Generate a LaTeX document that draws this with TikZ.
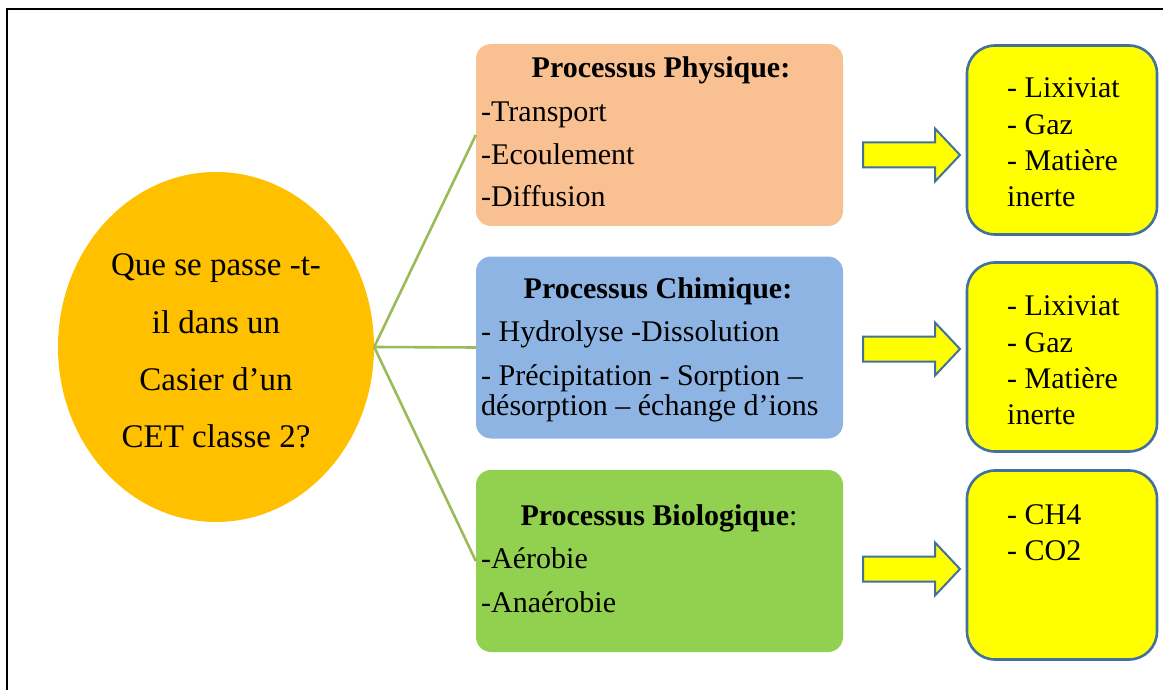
\documentclass[tikz,border=0pt]{standalone}
\usepackage{fontspec}
\setmainfont{Liberation Serif}
\usetikzlibrary{shapes.geometric}
\definecolor{qorange}{HTML}{FFC000}
\definecolor{peach}{HTML}{F9C091}
\definecolor{chemblue}{HTML}{8EB4E3}
\definecolor{biogreen}{HTML}{92D050}
\definecolor{linegreen}{HTML}{9BBB59}
\definecolor{outblue}{HTML}{41719C}
\definecolor{yel}{HTML}{FFFF00}
\tikzset{
  procbox/.style={draw=none, rounded corners=15pt, minimum width=367pt, minimum height=182pt, inner sep=0pt},
  resbox/.style={draw=outblue, fill=yel, line width=2.6pt, rounded corners=28pt, minimum width=190pt, minimum height=189pt, inner sep=0pt},
  qtext/.style={font=\fontsize{33}{40}\selectfont, anchor=base, inner sep=0pt},
  btext/.style={font=\fontsize{30}{36}\selectfont, anchor=base west, inner sep=0pt},
  ttext/.style={font=\fontsize{30}{36}\selectfont\bfseries, anchor=base, inner sep=0pt},
  conn/.style={draw=linegreen, line width=2.6pt},
  arrowshape/.style={draw=outblue, fill=yel, line width=2pt, line join=miter},
  fatarrow/.pic={\path[arrowshape] (-48.5,-12.5) -- (23.5,-12.5) -- (23.5,-26.5) -- (48.5,0) -- (23.5,26.5) -- (23.5,12.5) -- (-48.5,12.5) -- cycle;}
}
\begin{document}
\begin{tikzpicture}[x=1pt,y=-1pt]
\useasboundingbox (0,0) rectangle (1163,690);
% frame
\draw[line width=2.2pt] (7,695) -- (7,9) -- (1170,9);

% question ellipse
\node[ellipse, fill=qorange, minimum width=316pt, minimum height=350pt, inner sep=0pt] (q) at (216,347) {};
\node[qtext] (q1) at (216,276) {Que se passe -t-};
\node[qtext] (q2) at (216,333) {il dans un};
\node[qtext] (q3) at (216,390) {Casier d’un};
\node[qtext] (q4) at (216,447) {CET classe 2?};

% process boxes
\node[procbox, fill=peach] (p1) at (659.5,135) {};
\node[procbox, fill=chemblue] (p2) at (659.5,347.5) {};
\node[procbox, fill=biogreen] (p3) at (659.5,561) {};

\node[ttext] (t1) at (661,78) {Processus Physique:};
\node[btext] (a1) at (481,122) {-Transport};
\node[btext] (a2) at (481,165) {-Ecoulement};
\node[btext] (a3) at (481,207) {-Diffusion};

\node[ttext] (t2) at (658,298) {Processus Chimique:};
\node[btext] (b1) at (481,341) {- Hydrolyse -Dissolution};
\node[btext] (b2) at (481,385) {- Précipitation - Sorption –};
\node[btext] (b3) at (481,415) {désorption – échange d’ions};

\node[ttext] (t3) at (659,525) {Processus Biologique{\mdseries:}};
\node[btext] (c1) at (481,568) {-Aérobie};
\node[btext] (c2) at (481,612) {-Anaérobie};

% connectors
\draw[conn] (q.east) -- (p1.west);
\draw[conn] (q.east) -- (p2.west);
\draw[conn] (q.east) -- (p3.west);

% result boxes
\node[resbox] (r1) at (1062,140) {};
\node[resbox] (r2) at (1062,357) {};
\node[resbox] (r3) at (1062,565) {};

\node[btext] (r1a) at (1007,98) {- Lixiviat};
\node[btext] (r1b) at (1007,135) {- Gaz};
\node[btext] (r1c) at (1007,171) {- Matière};
\node[btext] (r1d) at (1007,207) {inerte};

\node[btext] (r2a) at (1007,315) {- Lixiviat};
\node[btext] (r2b) at (1007,352) {- Gaz};
\node[btext] (r2c) at (1007,388) {- Matière};
\node[btext] (r2d) at (1007,424) {inerte};

\node[btext] (r3a) at (1007,524) {- CH4};
\node[btext] (r3b) at (1007,560) {- CO2};

% block arrows
\pic at (911.5,155) {fatarrow};
\pic at (911.5,349) {fatarrow};
\pic at (911.5,569) {fatarrow};
\end{tikzpicture}
\end{document}
